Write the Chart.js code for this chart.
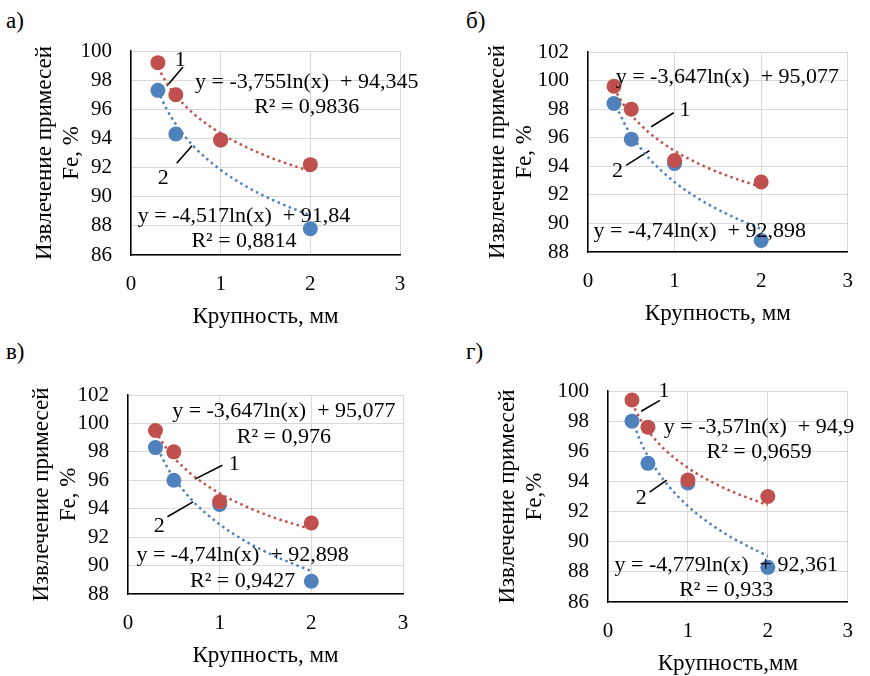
<!DOCTYPE html>
<html>
<head>
<meta charset="utf-8">
<script src="https://cdn.jsdelivr.net/npm/chart.js@4.4.1/dist/chart.umd.min.js"></script>
<style>
  html, body { margin: 0; padding: 0; background: #fff; overflow: hidden; }
  #wrap { position: relative; width: 870px; height: 676px; }
  canvas { position: absolute; }
  .tag { position: absolute; font: 23px "Liberation Serif", serif; line-height: 23px; color: #000; }
</style>
</head>
<body>
<div id="wrap">
  <div class="tag" style="left:6px;top:9px">а)</div>
  <div class="tag" style="left:466px;top:9px">б)</div>
  <div class="tag" style="left:6px;top:340px">в)</div>
  <div class="tag" style="left:466px;top:340px">г)</div>
  <canvas id="chartA" width="435" height="345" style="left:0;top:0"></canvas>
  <canvas id="chartB" width="435" height="345" style="left:435px;top:0"></canvas>
  <canvas id="chartC" width="435" height="345" style="left:0;top:338px"></canvas>
  <canvas id="chartD" width="435" height="345" style="left:435px;top:338px"></canvas>
</div>
<script>
// grain size, mm
const sizes = [0.3, 0.5, 1, 2];

// measured points (1 = red, 2 = blue)
const aRed  = [99.2, 97.0, 93.9, 92.2];
const aBlue = [97.3, 94.3, 93.9, 87.8];
const bRed  = [99.6, 98.0, 94.4, 92.9];
const bBlue = [98.4, 95.9, 94.2, 88.8];
const cRed  = [99.5, 98.0, 94.5, 93.0];
const cBlue = [98.3, 96.0, 94.3, 88.9];
const dRed  = [99.4, 97.6, 94.1, 93.0];
const dBlue = [98.0, 95.2, 93.9, 88.3];

// log trend lines
const trendX = [0.3, 0.4, 0.5, 0.7, 1, 1.3, 1.6, 2];
const aRedTrend  = [98.87, 97.79, 96.95, 95.68, 94.35, 93.36, 92.58, 91.74];
const aBlueTrend = [97.28, 95.98, 94.97, 93.45, 91.84, 90.65, 89.72, 88.71];
const bRedTrend  = [99.47, 98.42, 97.60, 96.38, 95.08, 94.12, 93.36, 92.55];
const bBlueTrend = [98.61, 97.24, 96.18, 94.59, 92.90, 91.65, 90.67, 89.61];
const cRedTrend  = [99.47, 98.42, 97.60, 96.38, 95.08, 94.12, 93.36, 92.55];
const cBlueTrend = [98.61, 97.24, 96.18, 94.59, 92.90, 91.65, 90.67, 89.61];
const dRedTrend  = [99.20, 98.17, 97.37, 96.17, 94.90, 93.96, 93.22, 92.43];
const dBlueTrend = [98.12, 96.74, 95.67, 94.07, 92.36, 91.11, 90.12, 89.05];

// axis ranges
const xRange = [0, 3];
const aYRange = [86, 100];
const bYRange = [88, 102];
const cYRange = [88, 102];
const dYRange = [86, 100];

const xTitle = "Крупность, мм";
const xTitleD = "Крупность,мм";
const yTitle = ["Извлечение примесей", "Fe, %"];
const yTitleD = ["Извлечение примесей", "Fe,%"];

// equation texts
const aEq = ["y = -3,755ln(x)  + 94,345", "R² = 0,9836", "y = -4,517ln(x)  + 91,84", "R² = 0,8814"];
const bEq = ["y = -3,647ln(x)  + 95,077", "y = -4,74ln(x)  + 92,898"];
const cEq = ["y = -3,647ln(x)  + 95,077", "R² = 0,976", "y = -4,74ln(x)  + 92,898", "R² = 0,9427"];
const dEq = ["y = -3,57ln(x)  + 94,9", "R² = 0,9659", "y = -4,779ln(x)  + 92,361", "R² = 0,933"];

const RED = "#c0504d";
const BLUE = "#4f81bd";
const FONT = '"Liberation Serif", "Times New Roman", serif';

Chart.defaults.font.family = FONT;
Chart.defaults.font.size = 21;
Chart.defaults.color = "#000";

const toXY = (xs, ys) => xs.map((x, i) => ({ x: x, y: ys[i] }));

const textPlugin = {
  id: "panelText",
  afterDatasetsDraw(chart, args, opts) {
    const { ctx, scales } = chart;
    ctx.save();
    ctx.font = "22px " + FONT;
    ctx.fillStyle = "#000";
    ctx.textAlign = "center";
    ctx.textBaseline = "middle";
    opts.items.forEach(t => {
      ctx.fillText(t.text, scales.x.getPixelForValue(t.x), scales.y.getPixelForValue(t.y));
    });
    ctx.restore();
  }
};

function makePanel(id, p) {
  const leader = (pts) => ({
    data: pts.map(q => ({ x: q[0], y: q[1] })),
    showLine: true, pointRadius: 0, borderColor: "#000", borderWidth: 1.6
  });
  const trend = (ys, color) => ({
    data: toXY(trendX, ys), showLine: true, pointRadius: 0,
    borderColor: color, borderWidth: 2.5, borderDash: [2.5, 3.5],
    cubicInterpolationMode: "monotone"
  });
  const marks = (ys, color) => ({
    data: toXY(sizes, ys), pointRadius: 7.5, pointHoverRadius: 7.5,
    backgroundColor: color, borderColor: color, borderWidth: 0
  });

  new Chart(document.getElementById(id), {
    type: "scatter",
    data: {
      datasets: [
        trend(p.redTrend, RED),
        trend(p.blueTrend, BLUE),
        marks(p.red, RED),
        marks(p.blue, BLUE),
        leader(p.lead1),
        leader(p.lead2)
      ]
    },
    options: {
      responsive: false,
      animation: false,
      events: [],
      layout: { padding: p.pad },
      plugins: {
        legend: { display: false },
        tooltip: { enabled: false },
        panelText: { items: p.texts }
      },
      scales: {
        x: {
          type: "linear", min: xRange[0], max: xRange[1],
          ticks: { stepSize: 1, padding: 17 },
          grid: { color: "#d9d9d9", drawTicks: false },
          border: { color: "#000", width: 1.5 },
          title: { display: true, text: p.xTitle, font: { size: 23 }, padding: 0 },
          afterFit: s => { s.height = 76; }
        },
        y: {
          type: "linear", min: p.yRange[0], max: p.yRange[1],
          ticks: { stepSize: 2, padding: 19 },
          grid: { color: "#d9d9d9", drawTicks: false },
          border: { color: "#000", width: 1.5 },
          title: { display: true, text: p.yTitle, font: { size: 23, lineHeight: 1.15 }, padding: { top: p.yTitlePad, bottom: 0 } },
          afterFit: s => { s.width = p.yWidth; }
        }
      }
    },
    plugins: [textPlugin]
  });
}

makePanel("chartA", {
  red: aRed, blue: aBlue, redTrend: aRedTrend, blueTrend: aBlueTrend,
  yRange: aYRange, xTitle: xTitle, yTitle: yTitle,
  pad: { left: 0, top: 51, right: 35, bottom: 14 }, yWidth: 131, yTitlePad: 32,
  lead1: [[0.58, 98.9], [0.40, 97.6]],
  lead2: [[0.51, 92.3], [0.68, 93.5]],
  texts: [
    { text: aEq[0], x: 1.96, y: 97.87 }, { text: aEq[1], x: 1.96, y: 96.16 },
    { text: aEq[2], x: 1.26, y: 88.67 }, { text: aEq[3], x: 1.26, y: 86.96 },
    { text: "1", x: 0.55, y: 99.38 }, { text: "2", x: 0.36, y: 91.28 }
  ]
});

makePanel("chartB", {
  red: bRed, blue: bBlue, redTrend: bRedTrend, blueTrend: bBlueTrend,
  yRange: bYRange, xTitle: xTitle, yTitle: yTitle,
  pad: { left: 0, top: 52, right: 17, bottom: 17 }, yWidth: 153, yTitlePad: 50,
  lead1: [[0.73, 96.77], [0.99, 97.75]],
  lead2: [[0.44, 94.06], [0.71, 95.1]],
  texts: [
    { text: bEq[0], x: 1.61, y: 100.26 }, { text: bEq[1], x: 1.29, y: 89.46 },
    { text: "1", x: 1.12, y: 97.89 }, { text: "2", x: 0.34, y: 93.64 }
  ]
});

makePanel("chartC", {
  red: cRed, blue: cBlue, redTrend: cRedTrend, blueTrend: cBlueTrend,
  yRange: cYRange, xTitle: xTitle, yTitle: yTitle,
  pad: { left: 0, top: 57, right: 32, bottom: 13 }, yWidth: 128, yTitlePad: 29,
  lead1: [[0.73, 96.08], [1.03, 97.06]],
  lead2: [[0.43, 93.43], [0.71, 94.48]],
  texts: [
    { text: cEq[0], x: 1.70, y: 100.84 }, { text: cEq[1], x: 1.70, y: 99.02 },
    { text: cEq[2], x: 1.25, y: 90.70 }, { text: cEq[3], x: 1.25, y: 88.88 },
    { text: "1", x: 1.16, y: 97.13 }, { text: "2", x: 0.34, y: 92.8 }
  ]
});

makePanel("chartD", {
  red: dRed, blue: dBlue, redTrend: dRedTrend, blueTrend: dBlueTrend,
  yRange: dYRange, xTitle: xTitleD, yTitle: yTitleD,
  pad: { left: 0, top: 53, right: 8, bottom: 5 }, yWidth: 173, yTitlePad: 60,
  lead1: [[0.415, 98.66], [0.65, 99.38]],
  lead2: [[0.52, 93.29], [0.735, 94.09]],
  texts: [
    { text: dEq[0], x: 1.89, y: 97.6 }, { text: dEq[1], x: 1.89, y: 95.94 },
    { text: dEq[2], x: 1.48, y: 88.46 }, { text: dEq[3], x: 1.48, y: 86.8 },
    { text: "1", x: 0.70, y: 99.98 }, { text: "2", x: 0.415, y: 92.9 }
  ]
});
</script>
</body>
</html>
